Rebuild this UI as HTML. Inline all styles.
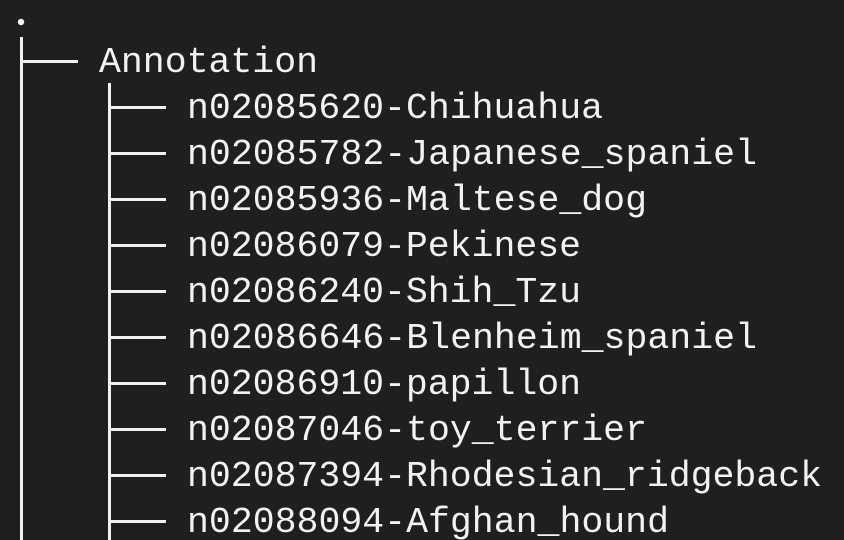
<!DOCTYPE html>
<html><head><meta charset="utf-8"><style>
html,body{margin:0;padding:0;background:#1f1f1f;width:844px;height:540px;overflow:hidden}
svg{display:block}
text{font-family:"Liberation Mono","DejaVu Sans Mono",monospace;font-size:36.5px;fill:#f2f2f2}
</style></head><body>
<svg width="844" height="540" viewBox="0 0 844 540" xmlns="http://www.w3.org/2000/svg">
<rect width="844" height="540" fill="#1f1f1f"/>
<circle cx="21" cy="22" r="3.2" fill="#f2f2f2"/>
<g fill="#f2f2f2">
<rect x="20" y="37" width="3" height="503"/>
<rect x="20" y="60" width="58" height="3"/>
<rect x="108" y="83" width="3" height="457"/>
<rect x="108" y="106" width="58" height="3"/>
<rect x="108" y="152" width="58" height="3"/>
<rect x="108" y="198" width="58" height="3"/>
<rect x="108" y="244" width="58" height="3"/>
<rect x="108" y="290" width="58" height="3"/>
<rect x="108" y="336" width="58" height="3"/>
<rect x="108" y="382" width="58" height="3"/>
<rect x="108" y="428" width="58" height="3"/>
<rect x="108" y="474" width="58" height="3"/>
<rect x="108" y="520" width="58" height="3"/>
</g>
<text x="99" y="72" textLength="219" lengthAdjust="spacingAndGlyphs">Annotation</text>
<text x="187" y="118" textLength="416" lengthAdjust="spacingAndGlyphs">n02085620-Chihuahua</text>
<text x="187" y="164" textLength="570" lengthAdjust="spacingAndGlyphs">n02085782-Japanese_spaniel</text>
<text x="187" y="210" textLength="460" lengthAdjust="spacingAndGlyphs">n02085936-Maltese_dog</text>
<text x="187" y="256" textLength="394" lengthAdjust="spacingAndGlyphs">n02086079-Pekinese</text>
<text x="187" y="302" textLength="394" lengthAdjust="spacingAndGlyphs">n02086240-Shih_Tzu</text>
<text x="187" y="348" textLength="570" lengthAdjust="spacingAndGlyphs">n02086646-Blenheim_spaniel</text>
<text x="187" y="394" textLength="394" lengthAdjust="spacingAndGlyphs">n02086910-papillon</text>
<text x="187" y="440" textLength="460" lengthAdjust="spacingAndGlyphs">n02087046-toy_terrier</text>
<text x="187" y="486" textLength="635" lengthAdjust="spacingAndGlyphs">n02087394-Rhodesian_ridgeback</text>
<text x="187" y="532" textLength="482" lengthAdjust="spacingAndGlyphs">n02088094-Afghan_hound</text>
</svg>
</body></html>
